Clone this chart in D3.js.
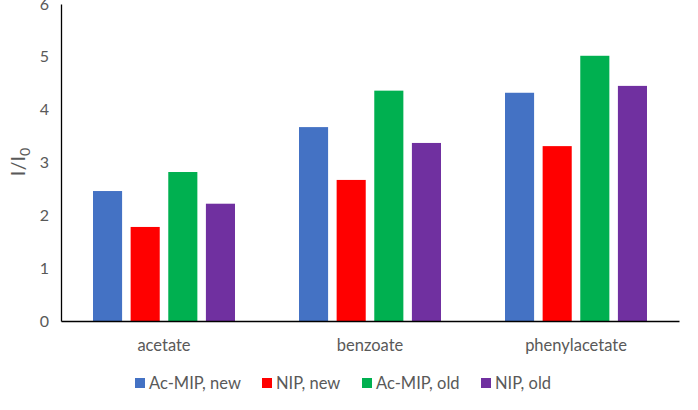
<!DOCTYPE html>
<html><head><meta charset="utf-8">
<script src="https://cdn.jsdelivr.net/npm/d3@7"></script>
<style>body{margin:0;background:#fff}svg{display:block}text{font-family:Lato,"Open Sans",sans-serif;fill:#595959}</style>
</head><body><svg id="c" width="698" height="410"></svg>
<script>
const categories = ["acetate","benzoate","phenylacetate"];
const seriesNames = ["Ac-MIP, new","NIP, new","Ac-MIP, old","NIP, old"];
const seriesColors = ["#4472C4","#FF0000","#00B050","#7030A0"];
const acMipNew = [2.46,3.67,4.32];
const nipNew = [1.78,2.67,3.31];
const acMipOld = [2.82,4.36,5.02];
const nipOld = [2.22,3.37,4.45];
const yTicks = [0,1,2,3,4,5,6];
const seriesValues = [acMipNew,nipNew,acMipOld,nipOld];

(function(){
const svg = d3.select("#c");
const mLeft = 61, mRight = 679, mTop = 4, mBottom = 321;
const x0 = d3.scaleBand().domain(categories).range([mLeft,mRight]).padding(0);
const x1 = d3.scaleBand().domain(seriesNames).range([32,174]).paddingInner(0.227);
const y = d3.scaleLinear().domain([0,6]).range([mBottom,mTop]);

categories.forEach((c,ci)=>{
  const g = svg.append("g").attr("transform",`translate(${x0(c)},0)`);
  seriesNames.forEach((s,si)=>{
    const v = seriesValues[si][ci];
    g.append("rect").attr("x",x1(s)).attr("width",x1.bandwidth())
     .attr("y",y(v)).attr("height",y(0)-y(v)).attr("fill",seriesColors[si]);
  });
});

const ya = svg.append("g").attr("transform",`translate(${mLeft},0)`)
  .call(d3.axisLeft(y).tickValues(yTicks).tickFormat(d3.format("d")).tickSize(0).tickPadding(12));
ya.select(".domain").attr("stroke","#000").attr("stroke-width",1.3);
ya.selectAll("text").style("font-size","16px").attr("fill","#595959").style("font-family","Lato,sans-serif");

const xa = svg.append("g").attr("transform",`translate(0,${mBottom})`)
  .call(d3.axisBottom(x0).tickSize(0).tickPadding(18));
xa.select(".domain").attr("stroke","#000").attr("stroke-width",1.3);
xa.selectAll("text").style("font-size","16.5px").attr("fill","#595959").style("font-family","Lato,sans-serif");

const yl = svg.append("text").attr("transform","translate(25,162) rotate(-90)")
  .attr("text-anchor","middle").style("font-size","20px");
yl.append("tspan").text("I/I");
yl.append("tspan").text("0").attr("dy",5).style("font-size","14px");

const legX = [135,262,362,481];
const lg = svg.append("g");
seriesNames.forEach((s,i)=>{
  lg.append("rect").attr("x",legX[i]).attr("y",378).attr("width",10).attr("height",10).attr("fill",seriesColors[i]);
  lg.append("text").attr("x",legX[i]+14).attr("y",389).style("font-size","16.5px").text(s);
});
})();
</script></body></html>
